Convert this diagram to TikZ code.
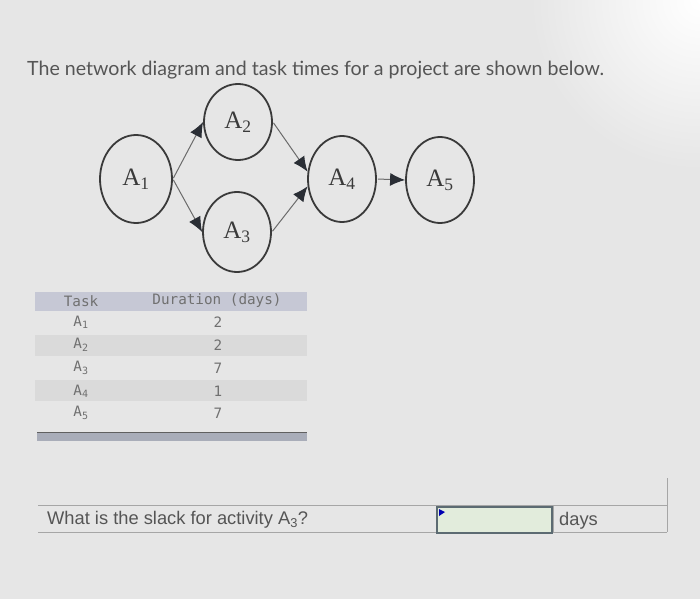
\documentclass[tikz,border=0pt]{standalone}
\usepackage{fontspec}
\setmainfont{Liberation Sans}
\newfontfamily\titlefont{Lato}
\newfontfamily\nodefont{Liberation Serif}
\newfontfamily\tabfont{DejaVu Sans Mono}
\usetikzlibrary{shapes.geometric,arrows.meta}
\definecolor{bg}{HTML}{E6E6E6}
\definecolor{txt}{HTML}{555555}
\definecolor{tabtxt}{HTML}{707070}
\definecolor{hdr}{HTML}{C6C8D5}
\definecolor{rowsh}{HTML}{DADADA}
\definecolor{botbar}{HTML}{A9ADB9}
\definecolor{ink}{HTML}{3A3A3A}
\definecolor{tip}{HTML}{2A2E35}
\definecolor{boxfill}{HTML}{E2ECDC}
\definecolor{boxline}{HTML}{5C6B72}
\tikzset{
  circ/.style={ellipse, draw=ink, line width=1.8pt, minimum width=68pt, minimum height=86pt, inner sep=0pt, font=\nodefont\fontsize{25}{27}\selectfont, text=ink},
  arr/.style={draw=ink!75, line width=1pt, -{Latex[length=15pt,width=13pt,fill=tip,color=tip]}, shorten <=1pt},
  tabt/.style={font=\tabfont\fontsize{14.3}{16}\selectfont, text=tabtxt, inner sep=0pt},
  qtxt/.style={font=\fontsize{18.3}{20}\selectfont, text=txt, inner sep=0pt},
  rule/.style={draw=gray!70, line width=0.8pt}
}
\begin{document}
\begin{tikzpicture}[x=1pt,y=-1pt]
\useasboundingbox (0,0) rectangle (700,599);
\fill[bg] (0,0) rectangle (700,599);
\shade[inner color=white, outer color=bg] (700,0) circle (170);
% title
\node[anchor=west, inner sep=0pt, text=txt, font=\titlefont\fontsize{19.6}{22}\selectfont] (title) at (27,70) {The network diagram and task times for a project are shown below.};
% network
\node[circ, minimum width=72pt, minimum height=88pt] (a1) at (136,179) {A\textsubscript{1}};
\node[circ, minimum height=76pt] (a2) at (238,122) {A\textsubscript{2}};
\node[circ, minimum height=80pt] (a3) at (237,232) {A\textsubscript{3}};
\node[circ] (a4) at (342,179) {A\textsubscript{4}};
\node[circ] (a5) at (440,180) {A\textsubscript{5}};
\draw[arr] (a1.east) -- (a2.west);
\draw[arr] (a1.east) -- (a3.west);
\draw[arr] (a2.east) -- (a4.168);
\draw[arr] (a3.east) -- (a4.192);
\draw[arr] (a4.east) -- (a5.west);
% table
\fill[hdr] (35,292) rectangle (307,311);
\fill[rowsh] (35,335) rectangle (307,356);
\fill[rowsh] (35,380) rectangle (307,401);
\fill[botbar] (37,432) rectangle (307,441);
\draw[gray!75!black, line width=0.6pt] (37,432) -- (307,432);
\node[tabt] (th1) at (81,301) {Task};
\node[tabt] (th2) at (217,301) {Duration (days)};
\node[tabt] (t1) at (81,322) {A\textsubscript{1}};
\node[tabt] (t2) at (81,345) {A\textsubscript{2}};
\node[tabt] (t3) at (81,368) {A\textsubscript{3}};
\node[tabt] (t4) at (81,391) {A\textsubscript{4}};
\node[tabt] (t5) at (81,413) {A\textsubscript{5}};
\node[tabt] (d1) at (218,322) {2};
\node[tabt] (d2) at (218,345) {2};
\node[tabt] (d3) at (218,368) {7};
\node[tabt] (d4) at (218,391) {1};
\node[tabt] (d5) at (218,413) {7};
% question row
\draw[rule] (38,505) -- (667,505);
\draw[rule] (38,532) -- (667,532);
\draw[rule] (667,478) -- (667,532);
\draw[rule] (553,505) -- (553,532);
\node[qtxt, anchor=west] (q) at (47,520) {What is the slack for activity A\textsubscript{3}?};
\draw[fill=boxfill, draw=boxline, line width=1.5pt] (437,507) rectangle (552,533);
\fill[blue!70!black] (439,509) -- (445,512) -- (439,516) -- cycle;
\node[qtxt, anchor=west] (days) at (559,521) {days};
\end{tikzpicture}
\end{document}
